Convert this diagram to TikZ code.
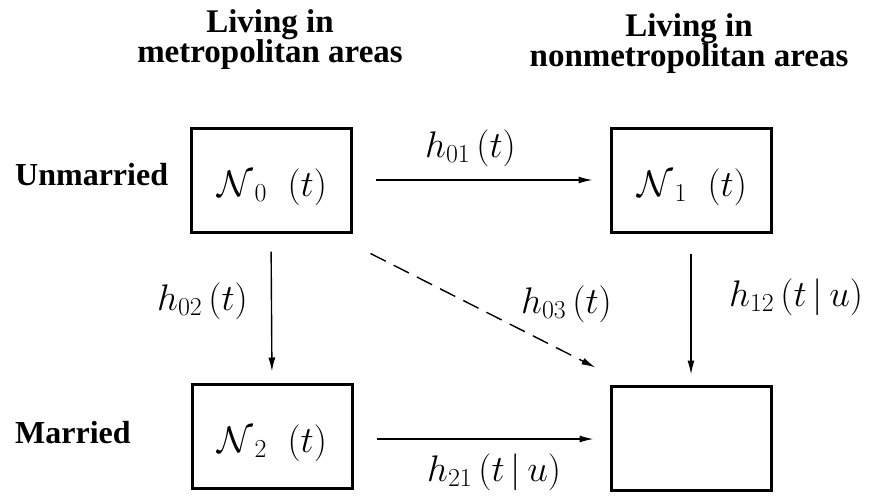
\RequirePackage{fix-cm}
\documentclass[tikz,border=0pt]{standalone}
\usepackage{fontspec}
\setmainfont{Liberation Serif}
\usetikzlibrary{arrows.meta,calc}
\tikzset{
  statebox/.style={draw, line width=3pt, minimum width=160pt, minimum height=104pt, inner sep=0pt},
  head/.style={font=\fontsize{33}{30}\selectfont\bfseries, align=center},
  rowlab/.style={font=\fontsize{32}{32}\selectfont\bfseries, anchor=base west, inner sep=0pt},
  rate/.style={font=\fontsize{37}{37}\selectfont, anchor=base west, inner sep=0pt},
  inbox/.style={font=\fontsize{37}{37}\selectfont},
  flow/.style={line width=1.4pt, -{Latex[length=14pt,width=7pt]}},
  flowd/.style={flow, dash pattern=on 17pt off 9pt},
}
\begin{document}
\begin{tikzpicture}[x=1pt,y=-1pt]
\useasboundingbox (0,0) rectangle (872,499);
% headings
\node[head, anchor=base] (hl) at (270,32) {Living in};
\node[head, anchor=base] (hl2) at (270,62) {metropolitan areas};
\node[head, anchor=base] (hr) at (689,36) {Living in};
\node[head, anchor=base] (hr2) at (689,66) {nonmetropolitan areas};
% row labels
\node[rowlab] (ru) at (15,185) {Unmarried};
\node[rowlab] (rm) at (15,443) {Married};
% boxes
\node[statebox] (N0) at (271,180) {};
\node[statebox] (N1) at (691,180) {};
\node[statebox] (N2) at (272,436) {};
\node[statebox] (N3) at (691,438) {};
\node[inbox, anchor=base] (t0) at (272,196) {$\mathcal{N}_{\;0}\;\;(t)$};
\node[inbox, anchor=base] (t1) at (692,196) {$\mathcal{N}_{\;1}\;\;(t)$};
\node[inbox, anchor=base] (t2) at (272,452) {$\mathcal{N}_{\;2}\;\;(t)$};
% connectors
\draw[flow, shorten <=23pt, shorten >=17pt] (N0.east) -- (N1.west);
\draw[flow, shorten <=18pt, shorten >=11pt] (N0.south) -- (N2.north);
\draw[flow, shorten <=20pt, shorten >=10pt] (N1.south) -- (N3.north);
\draw[flow, shorten <=23pt, shorten >=16pt] ($(N2.east)+(0,3)$) -- ($(N3.west)+(0,1)$);
\coordinate (ds) at ($(N0.south east)+(18,20)$);
\coordinate (de) at ($(N3.north west)+(-14,-17)$);
\draw[flowd] (ds) -- (de);
% rates
\node[rate] (r01) at (425,157) {$h_{01}\,(t)$};
\node[rate] (r02) at (157,310) {$h_{02}\,(t)$};
\node[rate] (r03) at (521,313) {$h_{03}\,(t)$};
\node[rate] (r12) at (729,306) {$h_{12}\,(t\,|\,u)$};
\node[rate] (r21) at (427,481) {$h_{21}\,(t\,|\,u)$};
\end{tikzpicture}
\end{document}
